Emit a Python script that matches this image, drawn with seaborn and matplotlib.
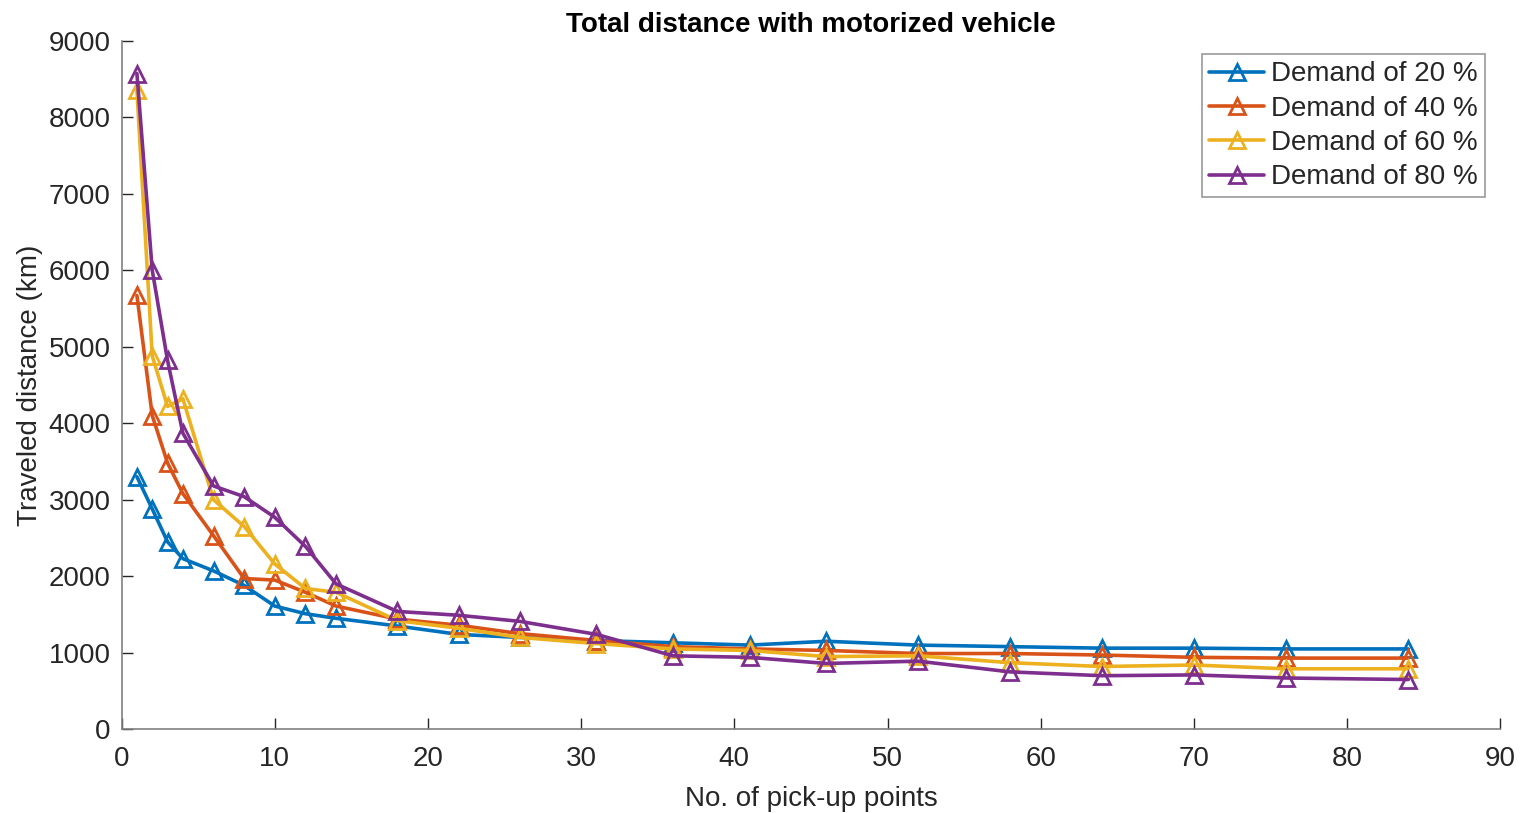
import pandas as pd
import matplotlib
matplotlib.use('Agg')
import matplotlib.pyplot as plt
import seaborn as sns

sns.set_style('white', {'xtick.bottom': True, 'ytick.left': True})
plt.rcParams['font.family'] = ['Liberation Sans', 'DejaVu Sans']
plt.rcParams['xtick.direction'] = 'in'
plt.rcParams['ytick.direction'] = 'in'

# pick-up points on the x axis
points = [1, 2, 3, 4, 6, 8, 10, 12, 14, 18, 22, 26, 31, 36, 41, 46, 52, 58, 64, 70, 76, 84]

# traveled distance (km) per demand level
demand_20 = [3300, 2880, 2450, 2230, 2070, 1880, 1610, 1510, 1450, 1350, 1240, 1200,
             1160, 1130, 1100, 1150, 1100, 1080, 1060, 1060, 1050, 1050]
demand_40 = [5670, 4100, 3480, 3080, 2530, 1970, 1950, 1790, 1610, 1440, 1360, 1250,
             1160, 1080, 1050, 1030, 990, 990, 970, 940, 930, 930]
demand_60 = [8350, 4880, 4220, 4320, 3000, 2650, 2160, 1840, 1790, 1420, 1320, 1200,
             1120, 1050, 1030, 950, 960, 870, 820, 840, 790, 790]
demand_80 = [8570, 6000, 4820, 3870, 3180, 3040, 2770, 2390, 1900, 1540, 1490, 1410,
             1240, 960, 940, 860, 890, 750, 700, 710, 670, 650]

labels = ['Demand of 20 %', 'Demand of 40 %', 'Demand of 60 %', 'Demand of 80 %']
colors = ['#0072BD', '#D95319', '#EDB120', '#7E2F8E']

fig, ax = plt.subplots(figsize=(15.2, 8.13), dpi=100)
fig.subplots_adjust(left=0.08, right=0.987, top=0.95, bottom=0.103)

for series, label, color in zip([demand_20, demand_40, demand_60, demand_80], labels, colors):
    df = pd.DataFrame({'points': points, 'distance': series})
    sns.lineplot(data=df, x='points', y='distance', ax=ax, label=label, color=color,
                 linewidth=2.6, marker='^', markersize=11, markerfacecolor='none',
                 markeredgecolor=color, markeredgewidth=2)

ax.set_xlim(0, 90)
ax.set_ylim(0, 9000)
ax.set_xticks(range(0, 91, 10))
ax.set_yticks(range(0, 9001, 1000))
ax.set_title('Total distance with motorized vehicle', fontsize=20, fontweight='bold',
             color='black', pad=6)
ax.set_xlabel('No. of pick-up points', fontsize=20, color='#262626', labelpad=10)
ax.set_ylabel('Traveled distance (km)', fontsize=20, color='#262626', labelpad=4)
ax.tick_params(axis='both', direction='in', length=8, width=1, labelsize=20,
               colors='#262626', bottom=True, left=True)
ax.tick_params(axis='x', pad=12)
ax.tick_params(axis='y', pad=8)
for side in ['top', 'right']:
    ax.spines[side].set_visible(False)
for side in ['left', 'bottom']:
    ax.spines[side].set_color('#808080')
    ax.spines[side].set_linewidth(1.2)

leg = ax.legend(loc='upper right', fontsize=20, frameon=True, fancybox=False,
                edgecolor='#808080', handlelength=2.0, handletextpad=0.25,
                borderpad=0.25, labelspacing=0.3, borderaxespad=0,
                bbox_to_anchor=(0.989, 0.98))
leg.get_frame().set_linewidth(1.2)

fig.savefig('out.png', dpi=100)
